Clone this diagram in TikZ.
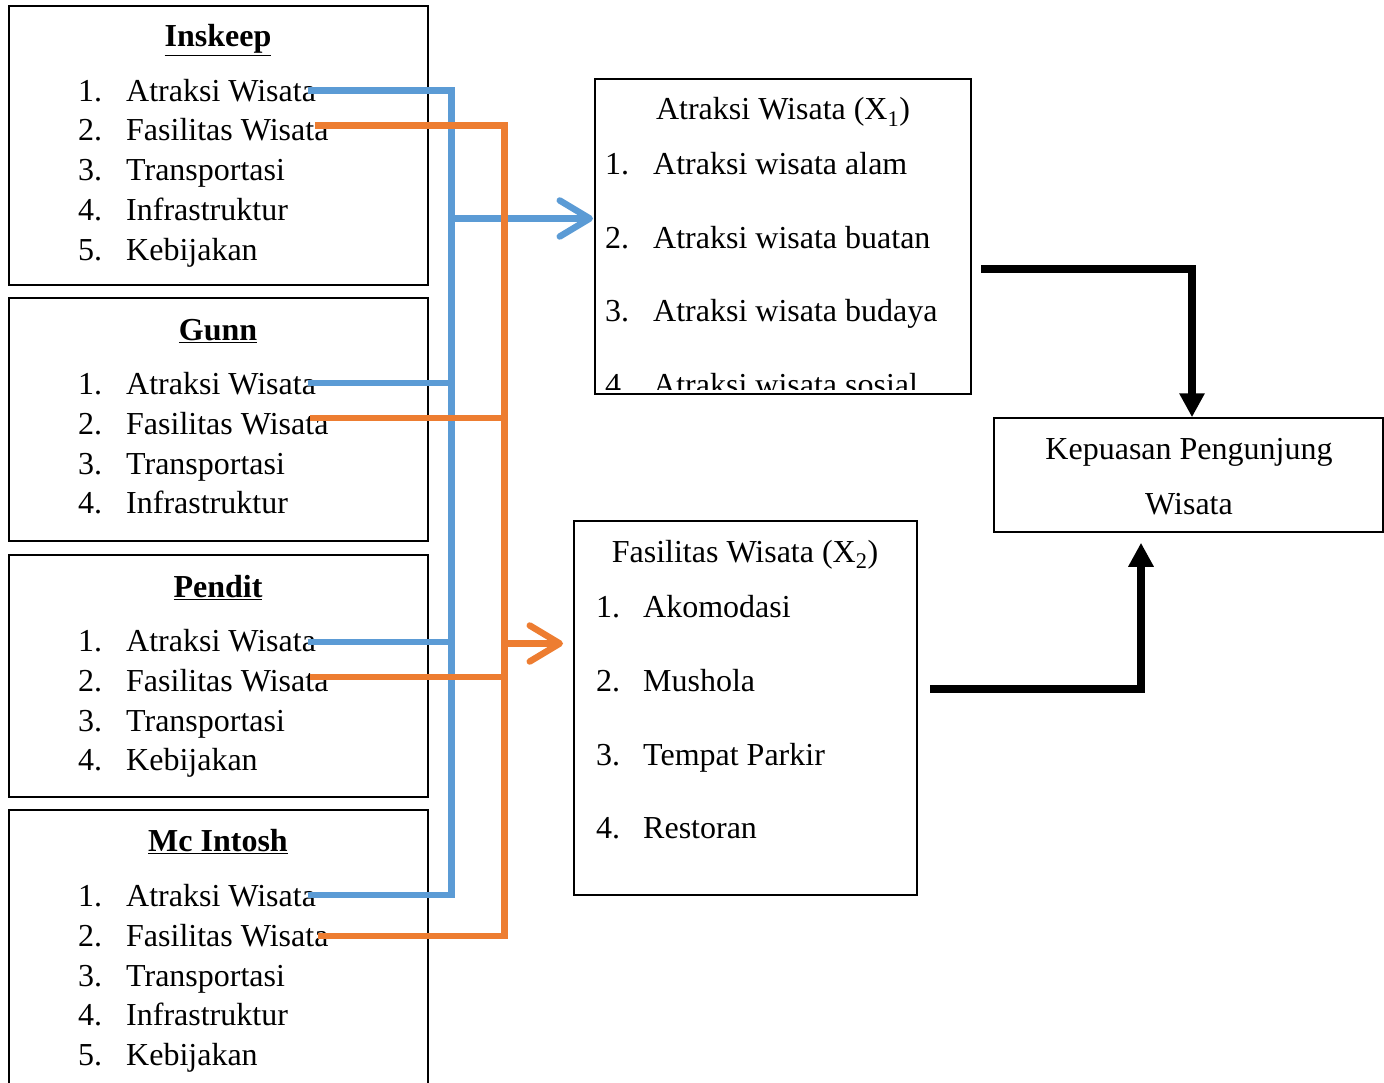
\documentclass[tikz,border=0pt]{standalone}
\usepackage{fontspec}
\setmainfont{Liberation Serif}
\usetikzlibrary{arrows.meta}

\definecolor{lineblue}{HTML}{5B9BD5}
\definecolor{lineorange}{HTML}{ED7D31}

\tikzset{
    frame/.style={draw, line width=1.5pt, inner sep=0pt},
    itm/.style={anchor=base west, inner sep=0pt, font=\fontsize{32}{38}\selectfont},
    ttl/.style={anchor=base, inner sep=0pt, font=\fontsize{32}{38}\selectfont},
    hd/.style={ttl, font=\fontsize{32}{38}\selectfont\bfseries},
    blueline/.style={draw=lineblue, line width=6.5pt},
    orangeline/.style={draw=lineorange, line width=6.5pt},
    barb/.style={-{Straight Barb[length=30pt, width=36pt, round]}},
    flow/.style={line width=8pt, -{Triangle[length=24pt, width=24pt]}}
}

\begin{document}
\begin{tikzpicture}[x=1pt, y=-1pt]

\useasboundingbox (0,0) rectangle (1384,1083);
\clip (0,0) rectangle (1384,1083);

% Source boxes
\node[frame, minimum width=419pt, minimum height=279pt] (inskeep) at (218.5,145.5) {};
\node[frame, minimum width=419pt, minimum height=243pt] (gunn) at (218.5,419.5) {};
\node[frame, minimum width=419pt, minimum height=242pt] (pendit) at (218.5,676) {};
\node[frame, minimum width=419pt, minimum height=285pt] (mcintosh) at (218.5,952.5) {};

% Inskeep
\node[hd] (ins-t) at (218,47) {\underline{Inskeep}};
\foreach \n/\y/\txt in {1/101.5/Atraksi Wisata, 2/141/Fasilitas Wisata, 3/181/Transportasi,
                        4/220.5/Infrastruktur, 5/260.5/Kebijakan} {
    \node[itm] (ins-n\n) at (78,\y) {\n.};
    \node[itm] (ins-\n) at (126,\y) {\txt};
}

% Gunn
\node[hd] (gunn-t) at (218,340) {\underline{Gunn}};
\foreach \n/\y/\txt in {1/394.5/Atraksi Wisata, 2/434/Fasilitas Wisata, 3/474/Transportasi,
                        4/513/Infrastruktur} {
    \node[itm] (gunn-n\n) at (78,\y) {\n.};
    \node[itm] (gunn-\n) at (126,\y) {\txt};
}

% Pendit
\node[hd] (pen-t) at (218,597) {\underline{Pendit}};
\foreach \n/\y/\txt in {1/651/Atraksi Wisata, 2/691/Fasilitas Wisata, 3/731/Transportasi,
                        4/770/Kebijakan} {
    \node[itm] (pen-n\n) at (78,\y) {\n.};
    \node[itm] (pen-\n) at (126,\y) {\txt};
}

% Mc Intosh
\node[hd] (mc-t) at (218,851) {\underline{Mc Intosh}};
\foreach \n/\y/\txt in {1/906/Atraksi Wisata, 2/946/Fasilitas Wisata, 3/986/Transportasi,
                        4/1025/Infrastruktur, 5/1065/Kebijakan} {
    \node[itm] (mc-n\n) at (78,\y) {\n.};
    \node[itm] (mc-\n) at (126,\y) {\txt};
}

% Atraksi Wisata (X1)
\node[frame, minimum width=376pt, minimum height=315pt] (x1) at (783,236.5) {};
\node[ttl] (x1-t) at (783,120) {Atraksi Wisata (X\textsubscript{1})};
\begin{scope}
    \clip (595,79) rectangle (971,389);
    \foreach \n/\y/\txt in {1/175/Atraksi wisata alam, 2/249/Atraksi wisata buatan,
                            3/322/Atraksi wisata budaya, 4/395/Atraksi wisata sosial} {
        \node[itm] (x1-n\n) at (605,\y) {\n.};
        \node[itm] (x1-\n) at (653,\y) {\txt};
    }
\end{scope}

% Fasilitas Wisata (X2)
\node[frame, minimum width=343pt, minimum height=374pt] (x2) at (745.5,708) {};
\node[ttl] (x2-t) at (745,562) {Fasilitas Wisata (X\textsubscript{2})};
\foreach \n/\y/\txt in {1/617/Akomodasi, 2/691/Mushola, 3/765/Tempat Parkir, 4/838/Restoran} {
    \node[itm] (x2-n\n) at (596,\y) {\n.};
    \node[itm] (x2-\n) at (643,\y) {\txt};
}

% Kepuasan
\node[frame, minimum width=389pt, minimum height=114pt] (kep) at (1188.5,475) {};
\node[ttl] (kep-1) at (1189,459) {Kepuasan Pengunjung};
\node[ttl] (kep-2) at (1189,514) {Wisata};

% Connector ends
\coordinate (b-ins) at (308,90.5);
\coordinate (b-gunn) at (308,383);
\coordinate (b-pen) at (308,642);
\coordinate (b-mc) at (308,895);
\coordinate (b-bus) at (451.5,895);
\coordinate (o-ins) at (315,125.5);
\coordinate (o-gunn) at (310,418);
\coordinate (o-pen) at (310,677);
\coordinate (o-mc) at (318,936);
\coordinate (o-bus) at (504.5,936);
\coordinate (x1-in) at (593,218.5);
\coordinate (x2-in) at (563,643.5);
\coordinate (x1-out) at (981,269);
\coordinate (x2-out) at (930,689);

% Blue bus
\draw[blueline] (b-ins) -| (b-bus) -- (b-mc);
\draw[blueline] (b-gunn) -- (b-gunn -| b-bus);
\draw[blueline] (b-pen) -- (b-pen -| b-bus);
\draw[blueline, barb] (x1-in -| b-bus) -- (x1-in);

% Orange bus
\draw[orangeline] (o-ins) -| (o-bus) -- (o-mc);
\draw[orangeline] (o-gunn) -- (o-gunn -| o-bus);
\draw[orangeline] (o-pen) -- (o-pen -| o-bus);
\draw[orangeline, barb] (x2-in -| o-bus) -- (x2-in);

% To Kepuasan
\draw[flow] (x1-out) -| ([xshift=3.5pt]kep.north);
\draw[flow] (x2-out) -| ([xshift=-47.5pt, yshift=-10pt]kep.south);

\end{tikzpicture}
\end{document}
